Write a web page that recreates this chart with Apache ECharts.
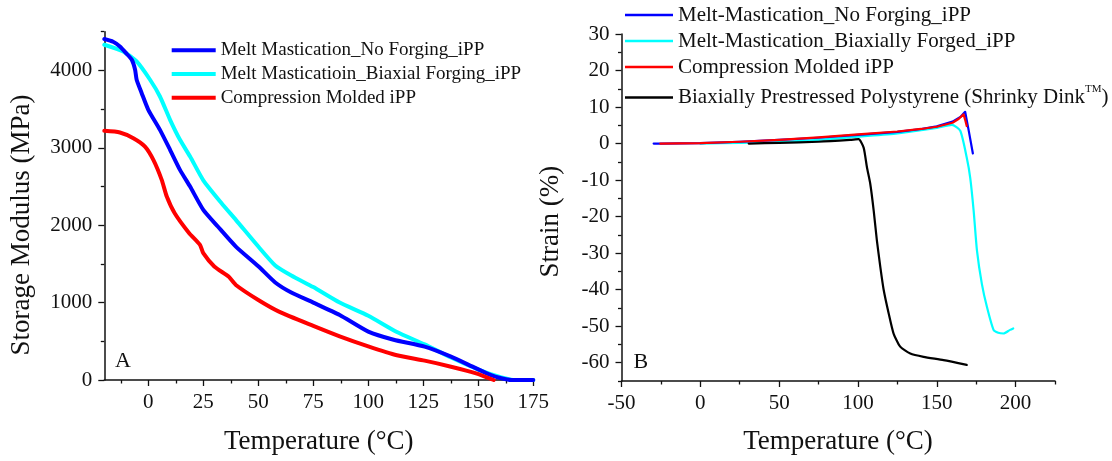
<!DOCTYPE html>
<html>
<head>
<meta charset="utf-8">
<script src="https://cdn.jsdelivr.net/npm/echarts@6/dist/echarts.min.js"></script>
<style>
  html, body { margin: 0; padding: 0; background: #fff; }
  #chart { width: 1112px; height: 461px; }
</style>
</head>
<body>
<div id="chart"></div>
<script>
// ---- Panel A: storage modulus vs temperature ----
const modNoForgeT = [-20, -16, -12.9, -10, -7.5, -6, -5.3, -3, 0, 5.3, 9.9, 14.4, 19, 25, 31.6, 39.8, 50, 57.7, 65, 75, 87, 100, 111.5, 125.6, 137.6, 147.4, 155.5, 160.5, 165, 175];
const modNoForgeE = [4405, 4370, 4309, 4220, 4137, 4008, 3879, 3706, 3491, 3232, 2974, 2715, 2499, 2198, 1983, 1724, 1470, 1260, 1130, 1000, 840, 625, 520, 431, 302, 172, 65, 22, 0, 0];

const modBiaxialT = [-20, -11.4, -5.3, 0.8, 5.3, 9.9, 14.4, 19, 25, 33.3, 39.8, 50, 57.7, 65, 75, 87, 100, 113, 125.6, 137.6, 150.6, 160.5, 167, 175];
const modBiaxialE = [4331, 4245, 4116, 3879, 3663, 3361, 3103, 2887, 2580, 2284, 2069, 1724, 1480, 1350, 1200, 1000, 830, 620, 460, 290, 129, 34, 0, 0];

const modMoldedT = [-20, -12.9, -6.8, -1.5, 2.3, 6.1, 8.4, 12, 18.6, 23.5, 25, 30, 36.5, 39.8, 50, 59.4, 75, 87, 100, 113, 125.6, 137.6, 149, 157];
const modMoldedE = [3219, 3198, 3124, 3016, 2844, 2586, 2370, 2155, 1897, 1746, 1638, 1466, 1336, 1228, 1034, 884, 700, 565, 435, 320, 250, 172, 86, 0];

const axisA_xMajor = [0, 25, 50, 75, 100, 125, 150, 175];
const axisA_xMinor = [-12.5, 12.5, 37.5, 62.5, 87.5, 112.5, 137.5, 162.5];
const axisA_yMajor = [0, 1000, 2000, 3000, 4000];
const axisA_yMinor = [500, 1500, 2500, 3500, 4500];

// ---- Panel B: strain vs temperature ----
const strNoForgeT = [-29.6, -25, 0, 25, 50, 75, 100, 125, 140, 150, 160, 165, 168, 170.5, 172.9];
const strNoForgeS = [0, 0, 0.1, 0.5, 1.0, 1.6, 2.4, 3.2, 4.0, 4.7, 6.0, 7.3, 8.7, 3.0, -2.7];

const strForgedT = [0, 25, 50, 75, 100, 125, 150, 159.6, 164.9, 169, 171.2, 173.4, 175.5, 178.6, 181.8, 186, 189, 192.3, 196.5, 198.5];
const strForgedS = [0, 0.2, 0.4, 1.0, 1.9, 2.8, 4.3, 5.1, 3.5, -3.8, -9.3, -18.4, -29.3, -38.4, -44.7, -51, -51.8, -52, -51, -50.6];

const strMoldedT = [-25.4, 0, 25, 50, 75, 100, 125, 140, 150, 160, 164, 167, 168, 169];
const strMoldedS = [0, 0.1, 0.5, 1.0, 1.7, 2.5, 3.3, 4.0, 4.6, 5.7, 6.8, 8.0, 6.5, 4.8];

const strPolystyreneT = [30.7, 50, 75, 95, 100.4, 103.6, 105.7, 107.8, 110, 112, 114.2, 116.3, 119.5, 122.6, 126.8, 133.2, 141.6, 154.3, 169];
const strPolystyreneS = [0, 0.2, 0.5, 1.0, 1.2, -1.1, -6.5, -11, -18.4, -26.5, -33.8, -40, -46.5, -52, -55.6, -57.5, -58.4, -59.3, -60.6];

const axisB_xMajor = [-50, 0, 50, 100, 150, 200];
const axisB_xMinor = [-25, 25, 75, 125, 175, 225];
const axisB_yMajor = [-60, -50, -40, -30, -20, -10, 0, 10, 20, 30];
const axisB_yMinor = [-65, -55, -45, -35, -25, -15, -5, 5, 15, 25];

const namesA = ['Melt Mastication_No Forging_iPP', 'Melt Masticatioin_Biaxial Forging_iPP', 'Compression Molded iPP'];
const namesB = ['Melt-Mastication_No Forging_iPP', 'Melt-Mastication_Biaxially Forged_iPP', 'Compression Molded iPP', 'Biaxially Prestressed Polystyrene (Shrinky Dink\u2122)'];

const BLUE = '#0000ff', CYAN = '#00ffff', RED = '#ff0000', BLACK = '#000000';
const SERIF = '"Liberation Serif", "Times New Roman", serif';
const INK = '#111111';

function zip(xs, ys) { return xs.map((x, i) => [x, ys[i]]); }

function majorAxis(grid, min, max, major, pos) {
  return {
    type: 'value', gridIndex: grid, min: min, max: max, position: pos, offset: 0,
    axisLine: { show: true, onZero: false, lineStyle: { color: INK, width: 1.5 } },
    axisTick: { show: true, inside: false, length: 6, customValues: major, lineStyle: { color: INK, width: 1.3 } },
    axisLabel: {
      show: true, customValues: major, margin: 12,
      fontFamily: SERIF, fontSize: 21, color: INK,
      formatter: function (v) { return String(v); }
    },
    splitLine: { show: false }
  };
}
function minorAxis(grid, min, max, minor, pos) {
  return {
    type: 'value', gridIndex: grid, min: min, max: max, position: pos, offset: 0,
    axisLine: { show: false, onZero: false },
    axisTick: { show: true, inside: false, length: 3.5, customValues: minor, lineStyle: { color: INK, width: 1.3 } },
    axisLabel: { show: false },
    splitLine: { show: false }
  };
}
function lineSeries(name, xi, yi, xs, ys, color, width, smooth) {
  return {
    type: 'line', name: name, xAxisIndex: xi, yAxisIndex: yi,
    data: zip(xs, ys), showSymbol: false, symbol: 'none',
    smooth: smooth,
    lineStyle: { color: color, width: width, join: 'round', cap: 'round' },
    itemStyle: { color: color },
    animation: false
  };
}

const chart = echarts.init(document.getElementById('chart'), null, { renderer: 'canvas' });
chart.setOption({
  backgroundColor: '#ffffff',
  animation: false,
  grid: [
    { left: 104.3, right: 578.7, top: 31.7, bottom: 81 },
    { left: 621.5, right: 57, top: 34, bottom: 80 }
  ],
  xAxis: [
    majorAxis(0, -20, 175, axisA_xMajor, 'bottom'),
    minorAxis(0, -20, 175, axisA_xMinor, 'bottom'),
    majorAxis(1, -50, 225, axisB_xMajor, 'bottom'),
    minorAxis(1, -50, 225, axisB_xMinor, 'bottom')
  ],
  yAxis: [
    majorAxis(0, 0, 4500, axisA_yMajor, 'left'),
    minorAxis(0, 0, 4500, axisA_yMinor, 'left'),
    majorAxis(1, -65, 30, axisB_yMajor, 'left'),
    minorAxis(1, -65, 30, axisB_yMinor, 'left')
  ],
  legend: [
    {
      data: namesA, orient: 'vertical', left: 171.7, top: 38.5, padding: 0,
      icon: 'rect', itemWidth: 44, itemHeight: 4, itemGap: 0,
      selectedMode: false,
      textStyle: { fontFamily: SERIF, fontSize: 19, color: INK, lineHeight: 23.7 }
    },
    {
      data: namesB, orient: 'vertical', left: 625, top: 2, padding: 0,
      icon: 'rect', itemWidth: 48, itemHeight: 2.5, itemGap: 0,
      selectedMode: false,
      formatter: function (name) {
        if (name.indexOf('\u2122') >= 0) {
          return '{n|' + name.replace('\u2122)', '') + '}{sup|TM}{n|)}';
        }
        return name;
      },
      textStyle: {
        fontFamily: SERIF, fontSize: 21, color: INK, lineHeight: 26,
        rich: {
          n: { fontFamily: SERIF, fontSize: 21, color: INK, lineHeight: 35 },
          sup: { fontFamily: SERIF, fontSize: 11, color: INK, lineHeight: 12, padding: [0, 0, 16, 0] }
        }
      }
    }
  ],
  series: [
    lineSeries(namesA[1], 0, 0, modBiaxialT, modBiaxialE, CYAN, 4, 0.2),
    lineSeries(namesA[0], 0, 0, modNoForgeT, modNoForgeE, BLUE, 4, 0.2),
    lineSeries(namesA[2], 0, 0, modMoldedT, modMoldedE, RED, 4, 0.2),
    lineSeries(namesB[1], 2, 2, strForgedT, strForgedS, CYAN, 2.2, 0.2),
    lineSeries(namesB[3], 2, 2, strPolystyreneT, strPolystyreneS, BLACK, 2.2, 0.2),
    lineSeries(namesB[0], 2, 2, strNoForgeT, strNoForgeS, BLUE, 2.2, false),
    lineSeries(namesB[2], 2, 2, strMoldedT, strMoldedS, RED, 2.2, false)
  ],
  graphic: [
    { type: 'text', x: 318.8, y: 442, style: { text: 'Temperature (\u00B0C)', fontFamily: SERIF, fontSize: 27, fill: INK, textAlign: 'center', textVerticalAlign: 'middle', verticalAlign: 'middle' } },
    { type: 'text', x: 838, y: 442, style: { text: 'Temperature (\u00B0C)', fontFamily: SERIF, fontSize: 27, fill: INK, textAlign: 'center', textVerticalAlign: 'middle', verticalAlign: 'middle' } },
    { type: 'text', x: 22.3, y: 225, rotation: Math.PI / 2, style: { text: 'Storage Modulus (MPa)', fontFamily: SERIF, fontSize: 27, fill: INK, textAlign: 'center', textVerticalAlign: 'middle', verticalAlign: 'middle' } },
    { type: 'text', x: 551, y: 221.7, rotation: Math.PI / 2, style: { text: 'Strain (%)', fontFamily: SERIF, fontSize: 27, fill: INK, textAlign: 'center', textVerticalAlign: 'middle', verticalAlign: 'middle' } },
    { type: 'text', x: 115, y: 361, style: { text: 'A', fontFamily: SERIF, fontSize: 22, fill: INK, textAlign: 'left', textVerticalAlign: 'middle', verticalAlign: 'middle' } },
    { type: 'text', x: 633.5, y: 362.7, style: { text: 'B', fontFamily: SERIF, fontSize: 22, fill: INK, textAlign: 'left', textVerticalAlign: 'middle', verticalAlign: 'middle' } }
  ]
});
</script>
</body>
</html>
